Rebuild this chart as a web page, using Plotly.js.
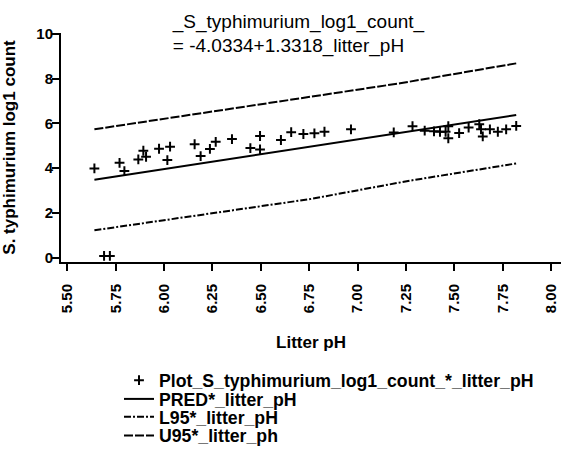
<!DOCTYPE html>
<html>
<head>
<meta charset="utf-8">
<script src="https://cdn.plot.ly/plotly-3.0.1.min.js"></script>
<style>html,body{margin:0;padding:0;background:#fff}#chart{width:561px;height:460px}</style>
</head>
<body>
<div id="chart"></div>
<script>
// Observed points: litter pH vs S. typhimurium log1 count
const obsX = [5.64, 5.69, 5.72, 5.77, 5.795, 5.867, 5.893, 5.907, 5.974, 6.017, 6.031, 6.158, 6.189, 6.237, 6.267, 6.351, 6.446, 6.496, 6.496, 6.604, 6.657, 6.72, 6.777, 6.829, 6.966, 7.187, 7.284, 7.347, 7.395, 7.426, 7.455, 7.469, 7.469, 7.525, 7.574, 7.629, 7.638, 7.647, 7.684, 7.725, 7.768, 7.82];
const obsY = [3.99, 0.07, 0.07, 4.24, 3.87, 4.39, 4.78, 4.51, 4.87, 4.36, 4.96, 5.07, 4.54, 4.86, 5.18, 5.30, 4.90, 5.44, 4.84, 5.26, 5.61, 5.53, 5.56, 5.63, 5.74, 5.60, 5.88, 5.68, 5.65, 5.63, 5.63, 5.88, 5.34, 5.57, 5.82, 5.97, 5.74, 5.42, 5.74, 5.63, 5.74, 5.89];

// Fitted line (PRED)
const predX = [5.64, 6.0, 6.5, 7.0, 7.5, 7.82];
const predY = [3.48, 3.96, 4.62, 5.29, 5.96, 6.38];

// Lower 95% prediction limit
const l95X = [5.64, 6.0, 6.6, 6.75, 7.27, 7.82];
const l95Y = [1.22, 1.67, 2.43, 2.61, 3.44, 4.21];

// Upper 95% prediction limit
const u95X = [5.64, 6.0, 6.45, 7.0, 7.22, 7.82];
const u95Y = [5.74, 6.21, 6.78, 7.51, 7.80, 8.69];

const xTickVals = [5.5, 5.75, 6.0, 6.25, 6.5, 6.75, 7.0, 7.25, 7.5, 7.75, 8.0];
const xTickText = ['5.50', '5.75', '6.00', '6.25', '6.50', '6.75', '7.00', '7.25', '7.50', '7.75', '8.00'];
const yTickVals = [0, 2, 4, 6, 8, 10];

const names = ['Plot_S_typhimurium_log1_count_*_litter_pH', 'PRED*_litter_pH', 'L95*_litter_pH', 'U95*_litter_ph'];
const titleText = '_S_typhimurium_log1_count_<br>= -4.0334+1.3318_litter_pH';
const xTitle = 'Litter pH';
const yTitle = 'S. typhimurium log1 count';

const FONT = 'Liberation Sans, Arial, Helvetica, sans-serif';

const traces = [
  {x: obsX, y: obsY, type: 'scatter', mode: 'markers', name: names[0], legend: 'legend',
   marker: {symbol: 'cross-thin-open', size: 7, color: '#000', line: {color: '#000', width: 2}}},
  {x: predX, y: predY, type: 'scatter', mode: 'lines', name: names[1], legend: 'legend2',
   line: {color: '#000', width: 2}},
  {x: l95X, y: l95Y, type: 'scatter', mode: 'lines', name: names[2], legend: 'legend3',
   line: {color: '#000', width: 2, dash: '7px,2px,2px,2px'}},
  {x: u95X, y: u95Y, type: 'scatter', mode: 'lines', name: names[3], legend: 'legend4',
   line: {color: '#000', width: 2, dash: '9px,2px'}}
];

const legFont = {family: FONT, size: 17.7, color: '#000', weight: 'bold'};
function leg(y) {
  return {x: 0.116, xanchor: 'left', y: y, yanchor: 'middle', font: legFont, bgcolor: 'rgba(0,0,0,0)', borderwidth: 0};
}

const layout = {
  width: 561, height: 460,
  margin: {l: 61, r: 0, t: 33, b: 198, pad: 0},
  paper_bgcolor: '#fff', plot_bgcolor: '#fff',
  showlegend: true,
  title: {text: titleText, x: 0.308, xref: 'container', xanchor: 'left', y: 0.94, yref: 'container', yanchor: 'top',
          font: {family: FONT, size: 19, color: '#000'}},
  xaxis: {range: [5.4674, 8.0514], tickvals: xTickVals, ticktext: xTickText, tickangle: -90,
          showgrid: false, zeroline: false, showline: true, linecolor: '#000', linewidth: 2,
          ticks: 'outside', ticklen: 7, tickwidth: 2, tickcolor: '#000', ticklabelstandoff: 7,
          tickfont: {family: FONT, size: 15, color: '#000', weight: 'bold'},
          title: {text: xTitle, standoff: 24, font: {family: FONT, size: 17, color: '#000', weight: 'bold'}},
          automargin: false, fixedrange: true},
  yaxis: {range: [-0.2, 10.05], tickvals: yTickVals,
          showgrid: false, zeroline: false, showline: true, linecolor: '#000', linewidth: 2,
          ticks: 'outside', ticklen: 7, tickwidth: 2, tickcolor: '#000', ticklabelstandoff: -4,
          tickfont: {family: FONT, size: 15, color: '#000', weight: 'bold'},
          title: {text: yTitle, standoff: 16, font: {family: FONT, size: 17, color: '#000', weight: 'bold'}},
          automargin: false, fixedrange: true},
  legend: leg(-0.518),
  legend2: leg(-0.600),
  legend3: leg(-0.678),
  legend4: leg(-0.760)
};

Plotly.newPlot('chart', traces, layout, {displayModeBar: false, staticPlot: true});
</script>
</body>
</html>
